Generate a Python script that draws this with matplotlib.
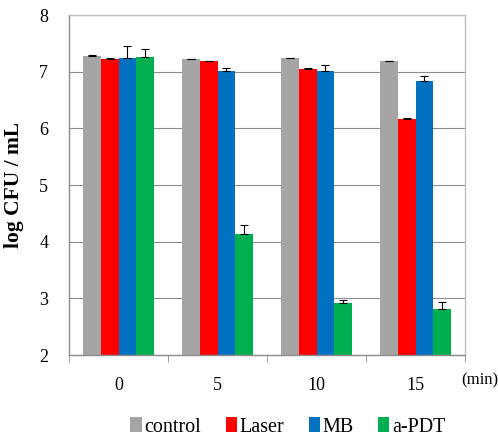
import numpy as np
import matplotlib
matplotlib.use("Agg")
import matplotlib.pyplot as plt

categories = ["0", "5", "10", "15"]
series = ["control", "Laser", "MB", "a-PDT"]
control = [7.28, 7.22, 7.24, 7.18]
laser = [7.23, 7.18, 7.05, 6.17]
mb = [7.24, 7.02, 7.02, 6.84]
apdt = [7.26, 4.14, 2.92, 2.82]
control_err = [0.02, 0.01, 0.01, 0.01]
laser_err = [0.01, 0.01, 0.01, 0.01]
mb_err = [0.21, 0.05, 0.09, 0.09]
apdt_err = [0.14, 0.15, 0.05, 0.12]
colors = ["#a5a5a5", "#ff0000", "#0070c0", "#00b050"]

SERIF = ['Liberation Serif', 'DejaVu Serif']
plt.rcParams['font.family'] = SERIF

fig = plt.figure(figsize=(4.98, 4.38), dpi=100)
ax = fig.add_axes([69/498, 83/438, 396/498, 340/438])

x = np.arange(len(categories))
w = 0.18
vals = [control, laser, mb, apdt]
errs = [control_err, laser_err, mb_err, apdt_err]
for i, (v, e, c, name) in enumerate(zip(vals, errs, colors, series)):
    pos = x + (i - 1.5) * w
    ax.bar(pos, np.array(v) - 2, bottom=2, width=w, color=c, label=name, zorder=2)
    ax.errorbar(pos, v, yerr=[np.zeros(len(e)), e], fmt='none', ecolor='black',
                elinewidth=0.8, capsize=3, capthick=0.8, zorder=3)

ax.set_ylim(2, 8)
ax.set_xlim(-0.5, 3.5)
ax.set_yticks(range(2, 9))
ax.yaxis.grid(True, color='#8c8c8c', linewidth=0.8, zorder=0)
ax.set_axisbelow(True)
ax.tick_params(axis='y', length=0, labelsize=13, pad=15)
ax.set_xticks(x)
ax.set_xticklabels(categories)
ax.tick_params(axis='x', length=0, labelsize=13, pad=16)
ax.set_xticks(np.arange(-0.5, 4.0, 1.0), minor=True)
ax.tick_params(axis='x', which='minor', length=5, color='#8c8c8c', direction='out')
for lab in ax.get_xticklabels() + ax.get_yticklabels():
    lab.set_fontfamily(SERIF)
for s in ax.spines.values():
    s.set_color('#bfbfbf')
    s.set_linewidth(1.0)
ax.spines['bottom'].set_color('#8c8c8c')
ax.spines['left'].set_color('#8c8c8c')

ax.set_ylabel("log CFU / mL", fontsize=15.5, fontweight='bold', labelpad=11,
              fontfamily=SERIF)
fig.text(480/498, 1 - 380/438, "(min)", fontsize=12, ha='center', va='center',
         fontfamily=SERIF)

leg = fig.legend(loc='center', bbox_to_anchor=(288/498, 1 - 427/438), ncol=4,
                 frameon=False, prop={'family': SERIF, 'size': 14.5},
                 handlelength=0.55, handleheight=0.75,
                 handletextpad=0.15, columnspacing=1.2)

fig.savefig("out.png", dpi=100)
